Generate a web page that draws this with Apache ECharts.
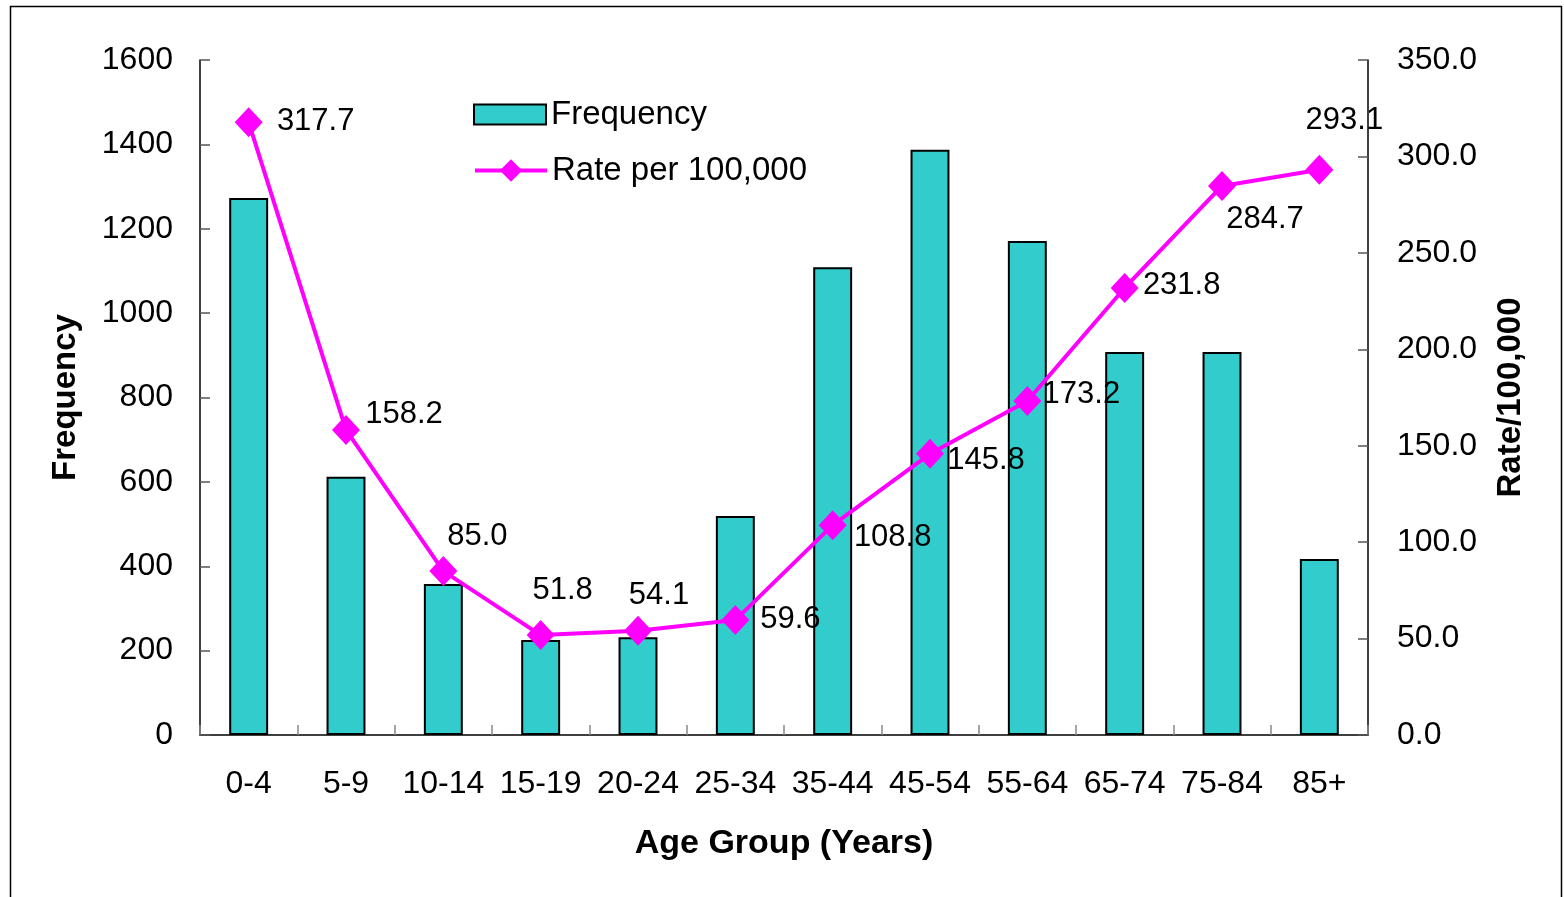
<!DOCTYPE html>
<html>
<head>
<meta charset="utf-8">
<script src="https://cdn.jsdelivr.net/npm/echarts@6/dist/echarts.min.js"></script>
<style>
  html, body { margin: 0; padding: 0; background: #fff; }
  #chart { width: 1564px; height: 897px; }
</style>
</head>
<body>
<div id="chart"></div>
<script>
var ageGroups = ["0-4", "5-9", "10-14", "15-19", "20-24", "25-34", "35-44", "45-54", "55-64", "65-74", "75-84", "85+"];
var frequency = [1273, 612, 358, 225, 232, 519, 1109, 1387, 1171, 908, 908, 417];
var ratePer100k = [317.7, 158.2, 85.0, 51.8, 54.1, 59.6, 108.8, 145.8, 173.2, 231.8, 284.7, 293.1];

var FONT = "'Liberation Sans', Arial, sans-serif";

// where each rate label sits, relative to its marker centre
var labelOffsets = [
  [67, -1], [58, -15], [34, -35], [22, -45], [21, -35], [55, -1],
  [60, 12], [56, 7], [54, -7], [57, -3], [43, 34], [25, -49]
];

var chart = echarts.init(document.getElementById("chart"));

var rateData = ratePer100k.map(function (v, i) {
  return {
    value: v,
    label: { offset: labelOffsets[i] }
  };
});

var nameStyle = { fontSize: 33, fontWeight: "bold", fontFamily: FONT, color: "#000" };
var legendText = { fontSize: 33, fontFamily: FONT, color: "#000" };

var option = {
  backgroundColor: "#fff",
  animation: false,
  textStyle: { fontFamily: FONT, color: "#000" },
  grid: { left: 200, right: 196, top: 60, bottom: 162 },
  // two legends so the bar swatch and the line marker can have different heights
  legend: [
    {
      left: 473,
      top: 98,
      padding: 0,
      itemWidth: 72,
      itemHeight: 20,
      textStyle: legendText,
      data: [{ name: "Frequency", icon: "rect" }]
    },
    {
      left: 473,
      top: 154,
      padding: 0,
      itemWidth: 72,
      itemHeight: 28,
      textStyle: legendText,
      lineStyle: { width: 4 },
      data: ["Rate per 100,000"]
    }
  ],
  xAxis: {
    type: "category",
    data: ageGroups,
    name: "Age Group (Years)",
    nameLocation: "middle",
    nameGap: 92,
    nameTextStyle: { fontSize: 34, fontWeight: "bold", fontFamily: FONT, color: "#000" },
    axisLine: { lineStyle: { color: "#000", width: 1.5 } },
    axisTick: { show: true, inside: true, length: 10, lineStyle: { color: "#888", width: 1.5 } },
    axisLabel: { fontSize: 32, color: "#000", margin: 33, interval: 0 },
    splitLine: { show: false }
  },
  yAxis: [
    {
      type: "value",
      min: 0,
      max: 1600,
      interval: 200,
      name: "Frequency",
      nameLocation: "middle",
      nameRotate: 90,
      nameGap: 118,
      nameTextStyle: nameStyle,
      axisLine: { show: true, lineStyle: { color: "#000", width: 1.5 } },
      axisTick: { show: true, inside: true, length: 10, lineStyle: { color: "#555", width: 1.5 } },
      axisLabel: {
        fontSize: 32,
        color: "#000",
        margin: 27,
        formatter: function (v) { return String(v); }
      },
      splitLine: { show: false }
    },
    {
      type: "value",
      min: 0,
      max: 350,
      interval: 50,
      name: "Rate/100,000",
      nameLocation: "middle",
      nameRotate: 90,
      nameGap: 126,
      nameTextStyle: nameStyle,
      axisLine: { show: true, lineStyle: { color: "#000", width: 1.5 } },
      axisTick: { show: true, inside: true, length: 10, lineStyle: { color: "#555", width: 1.5 } },
      axisLabel: {
        fontSize: 32,
        color: "#000",
        margin: 29,
        formatter: function (v) { return v.toFixed(1); }
      },
      splitLine: { show: false }
    }
  ],
  series: [
    {
      name: "Frequency",
      type: "bar",
      yAxisIndex: 0,
      data: frequency,
      barWidth: "40%",
      itemStyle: { color: "#33CCCC", borderColor: "#000", borderWidth: 2 }
    },
    {
      name: "Rate per 100,000",
      type: "line",
      yAxisIndex: 1,
      data: rateData,
      symbol: "diamond",
      symbolSize: [28, 30],
      lineStyle: { color: "#FF00FF", width: 4 },
      itemStyle: { color: "#FF00FF" },
      z: 5,
      label: {
        show: true,
        position: "inside",
        align: "center",
        verticalAlign: "middle",
        fontSize: 31,
        color: "#000",
        fontFamily: FONT,
        formatter: function (p) { return p.value.toFixed(1); }
      }
    }
  ],
  graphic: [
    {
      type: "rect",
      silent: true,
      shape: { x: 10.5, y: 6.5, width: 1551, height: 900 },
      style: { fill: null, stroke: "#000", lineWidth: 1.5 }
    }
  ]
};

chart.setOption(option);
</script>
</body>
</html>
